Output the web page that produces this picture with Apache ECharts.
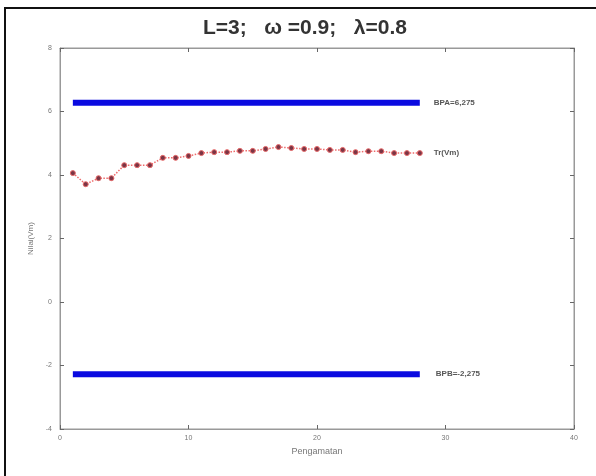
<!DOCTYPE html>
<html>
<head>
<meta charset="utf-8">
<script src="https://cdn.jsdelivr.net/npm/echarts@6/dist/echarts.min.js"></script>
<style>
    html, body { margin: 0; padding: 0; background: #fff; }
    #main { width: 596px; height: 476px; }
</style>
</head>
<body>
<div id="main"></div>
<script>
// pengamatan ke-1 .. ke-28
var obs = [1, 2, 3, 4, 5, 6, 7, 8, 9, 10, 11, 12, 13, 14, 15, 16, 17, 18, 19, 20, 21, 22, 23, 24, 25, 26, 27, 28];
var trVm = [4.06, 3.71, 3.9, 3.9, 4.31, 4.31, 4.31, 4.54, 4.54, 4.6, 4.69, 4.72, 4.72, 4.76, 4.76, 4.82, 4.88, 4.85, 4.82, 4.82, 4.79, 4.79, 4.72, 4.75, 4.75, 4.69, 4.69, 4.69];
var bpa = 6.275;
var bpb = -2.275;
var xTicks = [0, 10, 20, 30, 40];
var yTicks = [-4, -2, 0, 2, 4, 6, 8];

var tickFont = { fontSize: 7, color: '#777', fontFamily: 'Liberation Sans' };
var boxColor = '#999';

function limitLine(v) {
    return [[obs[0], v], [obs[obs.length - 1], v]];
}

var chart = echarts.init(document.getElementById('main'));
chart.setOption({
    backgroundColor: '#fff',
    animation: false,
    title: {
        text: 'L=3;   \u03c9 =0.9;   \u03bb=0.8',
        left: 198,
        top: 13,
        textStyle: { fontSize: 21, fontWeight: 'bold', color: '#333', fontFamily: 'Liberation Sans' }
    },
    graphic: [{
        type: 'rect',
        shape: { x: 5, y: 8, width: 600, height: 480 },
        style: { fill: 'none', stroke: '#111', lineWidth: 2 }
    }],
    grid: { left: 60, right: 22, top: 48, bottom: 47, show: true, borderColor: boxColor, borderWidth: 1 },
    xAxis: [{
        type: 'value', min: xTicks[0], max: xTicks[xTicks.length - 1], interval: 10,
        name: 'Pengamatan', nameLocation: 'middle', nameGap: 17,
        nameTextStyle: { fontSize: 9, color: '#777', fontFamily: 'Liberation Sans' },
        axisLine: { onZero: false, lineStyle: { color: boxColor } },
        axisTick: { inside: true, length: 4, lineStyle: { color: '#666' } },
        axisLabel: Object.assign({ margin: 6 }, tickFont),
        splitLine: { show: false }
    }, {
        type: 'value', position: 'top', min: 0, max: 40, interval: 10,
        axisLine: { onZero: false, lineStyle: { color: boxColor } },
        axisTick: { inside: true, length: 4, lineStyle: { color: '#666' } },
        axisLabel: { show: false }, splitLine: { show: false }
    }],
    yAxis: [{
        type: 'value', min: yTicks[0], max: yTicks[yTicks.length - 1], interval: 2,
        name: 'Nilai(Vm)', nameLocation: 'middle', nameGap: 18,
        nameTextStyle: { fontSize: 8, color: '#777', fontFamily: 'Liberation Sans' },
        axisLine: { onZero: false, lineStyle: { color: boxColor } },
        axisTick: { inside: true, length: 4, lineStyle: { color: '#666' } },
        axisLabel: Object.assign({ margin: 8 }, tickFont),
        splitLine: { show: false }
    }, {
        type: 'value', position: 'right', min: -4, max: 8, interval: 2,
        axisLine: { onZero: false, lineStyle: { color: boxColor } },
        axisTick: { inside: true, length: 4, lineStyle: { color: '#666' } },
        axisLabel: { show: false }, splitLine: { show: false }
    }],
    series: [{
        name: 'BPA', type: 'line', data: limitLine(bpa), symbol: 'none',
        lineStyle: { color: '#0a0ae0', width: 6 },
        endLabel: { show: true, distance: 14, formatter: 'BPA=6,275', fontSize: 8, fontWeight: 'bold', color: '#555' }
    }, {
        name: 'BPB', type: 'line', data: limitLine(bpb), symbol: 'none',
        lineStyle: { color: '#0a0ae0', width: 6 },
        endLabel: { show: true, distance: 16, formatter: 'BPB=-2,275', fontSize: 8, fontWeight: 'bold', color: '#555' }
    }, {
        name: 'Tr(Vm)', type: 'line',
        data: obs.map(function (x, i) { return [x, trVm[i]]; }),
        symbol: 'circle', symbolSize: 5,
        lineStyle: { color: '#ee6a6a', width: 1.5, type: 'dotted' },
        itemStyle: { color: '#7a3545', borderColor: '#e86a6a', borderWidth: 1 },
        endLabel: { show: true, distance: 14, formatter: 'Tr(Vm)', fontSize: 8, fontWeight: 'bold', color: '#555' }
    }]
});
</script>
</body>
</html>
